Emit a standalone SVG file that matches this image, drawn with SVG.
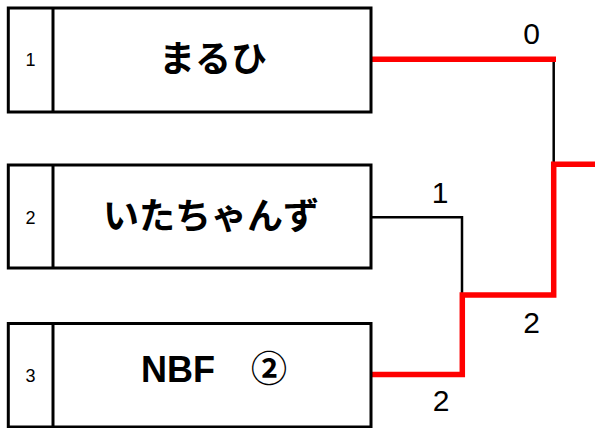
<svg xmlns="http://www.w3.org/2000/svg" width="595" height="428" viewBox="0 0 595 428">
<style>
.box{fill:#fff;stroke:#000;stroke-width:3}
.div{stroke:#000;stroke-width:3}
.num{font-family:"Liberation Sans","Noto Sans CJK JP",sans-serif;font-size:18px;text-anchor:middle;fill:#000}
.name{font-family:"Liberation Sans","Noto Sans CJK JP",sans-serif;font-weight:bold;font-size:36px;text-anchor:middle;fill:#000}
.blk{fill:none;stroke:#000;stroke-width:2.5}
.red{fill:none;stroke:#ff0000;stroke-width:5.5}
.score{font-family:"Liberation Sans","Noto Sans CJK JP",sans-serif;font-size:30px;text-anchor:middle;fill:#000}
</style>
<g id="connectors">
<polyline class="blk" points="371,217.3 462,217.3 462,295"/>
<polyline class="blk" points="553.7,59.3 553.7,164"/>
<polyline class="red" points="371,59.3 556,59.3"/>
<polyline class="red" points="371,374.5 462.3,374.5 462.3,295 553.7,295 553.7,164.3 595,164.3"/>
<text class="score" x="531.5" y="44">0</text>
<text class="score" x="440" y="202.5">1</text>
<text class="score" x="531.5" y="332.5">2</text>
<text class="score" x="441" y="411">2</text>
</g>
<g id="node1">
<rect class="box" x="8.3" y="8" width="362.7" height="104"/>
<line class="div" x1="53" y1="8" x2="53" y2="112"/>
<text class="num" x="30.5" y="66">1</text>
<text class="name" x="213" y="72">まるひ</text>
</g>
<g id="node2">
<rect class="box" x="8.3" y="165" width="362.7" height="103"/>
<line class="div" x1="53" y1="165" x2="53" y2="268"/>
<text class="num" x="30.5" y="223.5">2</text>
<text class="name" x="211" y="229">いたちゃんず</text>
</g>
<g id="node3">
<rect class="box" x="8.3" y="323.5" width="362.7" height="103.5"/>
<line class="div" x1="53" y1="323.5" x2="53" y2="427"/>
<text class="num" x="30.5" y="381.5">3</text>
<text class="name" x="214" y="381.5">NBF　②</text>
</g>
</svg>
